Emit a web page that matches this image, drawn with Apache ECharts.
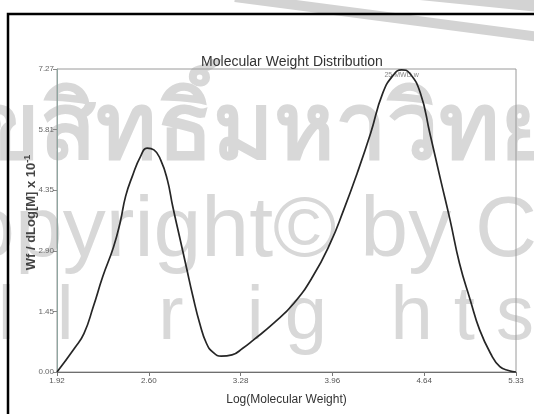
<!DOCTYPE html>
<html>
<head>
<meta charset="utf-8">
<script src="https://cdn.jsdelivr.net/npm/echarts@6/dist/echarts.min.js"></script>
<style>
  html, body { margin: 0; padding: 0; background: #fff; }
  #chart { width: 534px; height: 414px; }
</style>
</head>
<body>
<div id="chart"></div>
<script>
// Molecular weight distribution (GPC trace), bimodal
const logM = [1.92, 2.05, 2.12, 2.19, 2.26, 2.34, 2.39, 2.43, 2.48, 2.54, 2.59, 2.64, 2.69, 2.74,
  2.78, 2.83, 2.88, 2.93, 2.98, 3.03, 3.08, 3.14, 3.22, 3.30, 3.38, 3.53, 3.68, 3.82, 3.95, 4.05,
  4.15, 4.25, 4.34, 4.42, 4.48, 4.54, 4.62, 4.69, 4.77, 4.84, 4.91, 4.99, 5.06, 5.14, 5.21, 5.28, 5.33];
const wf = [0, 0.57, 0.92, 1.57, 2.29, 3.0, 3.6, 4.22, 4.7, 5.17, 5.37, 5.33, 5.09, 4.61,
  3.97, 3.25, 2.53, 1.81, 1.17, 0.69, 0.47, 0.38, 0.41, 0.57, 0.77, 1.17, 1.65, 2.29, 3.09, 3.89,
  4.77, 5.73, 6.69, 7.13, 7.25, 7.17, 6.69, 5.73, 4.61, 3.65, 2.61, 1.73, 1.01, 0.45, 0.13, 0.03, 0];

const xTickValues = [1.92, 2.602, 3.284, 3.966, 4.648, 5.33];
const xTickLabels = ['1.92', '2.60', '3.28', '3.96', '4.64', '5.33'];
const yTickValues = [0, 1.454, 2.908, 4.362, 5.816, 7.27];
const yTickLabels = ['0.00', '1.45', '2.90', '4.35', '5.81', '7.27'];

const peakLabel = '25 MWD w';
const peakIndex = 34;

const titleText = 'Molecular Weight Distribution';
const xName = 'Log(Molecular Weight)';

const wmThai = 'ลิขสิทธิ์มหาวิทยาลัยเชียงใหม่';
const wmCopy = 'Copyright\u00A9 by Chiang Mai University';
const wmRights = 'Al  l    r   i g   h t s   r e s e r v e d';

const narrow = '"Liberation Sans Narrow", "Liberation Sans", Arial, sans-serif';
const wmFill = '#d8d8d8';

const chart = echarts.init(document.getElementById('chart'), null, { renderer: 'canvas' });

const points = logM.map((x, i) => [x, wf[i]]);

function wmText(text, x, y, size, weight) {
  return {
    type: 'text', z: -1, silent: true,
    style: {
      x: x, y: y, text: text,
      font: (weight || 'normal') + ' ' + size + 'px "Liberation Sans", Arial, sans-serif',
      fill: wmFill, align: 'left', verticalAlign: 'middle',
      shadowColor: 'rgba(150,150,150,0.55)', shadowOffsetX: 2, shadowOffsetY: 2, shadowBlur: 1
    }
  };
}

chart.setOption({
  backgroundColor: '#fff',
  animation: false,
  title: {
    text: titleText,
    left: 287, top: 50, textAlign: 'center',
    textStyle: { fontFamily: narrow, fontSize: 14, fontWeight: 'normal', color: '#333' }
  },
  grid: { left: 57, right: 18, top: 69, bottom: 42, show: true, borderColor: '#9a9a9a', borderWidth: 1 },
  xAxis: {
    type: 'value', min: 1.92, max: 5.33,
    name: xName, nameLocation: 'middle', nameGap: 22,
    nameTextStyle: { fontFamily: narrow, fontSize: 12, color: '#333' },
    axisLine: { show: true, lineStyle: { color: '#6f6f6f', width: 1 } },
    axisTick: { show: true, length: 4, customValues: xTickValues, lineStyle: { color: '#777' } },
    axisLabel: {
      customValues: xTickValues, margin: 5,
      fontFamily: narrow, fontSize: 8, color: '#555',
      formatter: (v) => xTickLabels[xTickValues.indexOf(v)]
    },
    splitLine: { show: false }
  },
  yAxis: {
    type: 'value', min: 0, max: 7.27,
    name: '{a|Wf / dLog[M] x 10}{b|-1}', nameLocation: 'middle', nameGap: 18, nameRotate: 90,
    nameMoveOverlap: false,
    nameTextStyle: {
      padding: [0, 0, 0, 16],
      rich: {
        a: { fontFamily: '"Liberation Sans", Arial, sans-serif', fontSize: 13, fontWeight: 'bold', color: '#444', lineHeight: 16 },
        b: { fontFamily: '"Liberation Sans", Arial, sans-serif', fontSize: 9, fontWeight: 'bold', color: '#444', verticalAlign: 'top', lineHeight: 16 }
      }
    },
    axisLine: { show: true, lineStyle: { color: '#8fa6a0', width: 1 } },
    axisTick: { show: true, length: 4, customValues: yTickValues, lineStyle: { color: '#888' } },
    axisLabel: {
      customValues: yTickValues, margin: 3,
      fontFamily: narrow, fontSize: 8, color: '#666',
      formatter: (v) => yTickLabels[yTickValues.indexOf(v)]
    },
    splitLine: { show: false }
  },
  series: [{
    type: 'line',
    data: points,
    smooth: 0.5,
    showSymbol: false,
    z: 5,
    lineStyle: { color: '#262626', width: 1.7 },
    markPoint: {
      symbol: 'circle', symbolSize: 0,
      label: {
        show: true, position: 'bottom', distance: 2,
        fontFamily: narrow, fontSize: 7, color: '#888',
        formatter: peakLabel
      },
      data: [{ coord: points[peakIndex] }]
    }
  }],
  graphic: [
    // seal outline arcs
    { type: 'bezierCurve', z: -1, silent: true,
      shape: { x1: 235, y1: -3, x2: 540, y2: 37, cpx1: 365, cpy1: 14 },
      style: { stroke: '#d3d3d3', lineWidth: 10, fill: null } },
    { type: 'bezierCurve', z: -1, silent: true,
      shape: { x1: 410, y1: -8, x2: 540, y2: 5, cpx1: 480, cpy1: -1 },
      style: { stroke: '#d3d3d3', lineWidth: 14, fill: null } },
    // watermark lines
    wmText(wmThai, -79, 133, 92, 'bold'),
    wmText(wmCopy, -95, 232, 86, 'normal'),
    wmText(wmRights, -53, 318, 76, 'normal'),
    // page frame
    { type: 'rect', z: 100, silent: true,
      shape: { x: 8, y: 14, width: 700, height: 600 },
      style: { stroke: '#000', lineWidth: 2.5, fill: null } }
  ]
});
</script>
</body>
</html>
